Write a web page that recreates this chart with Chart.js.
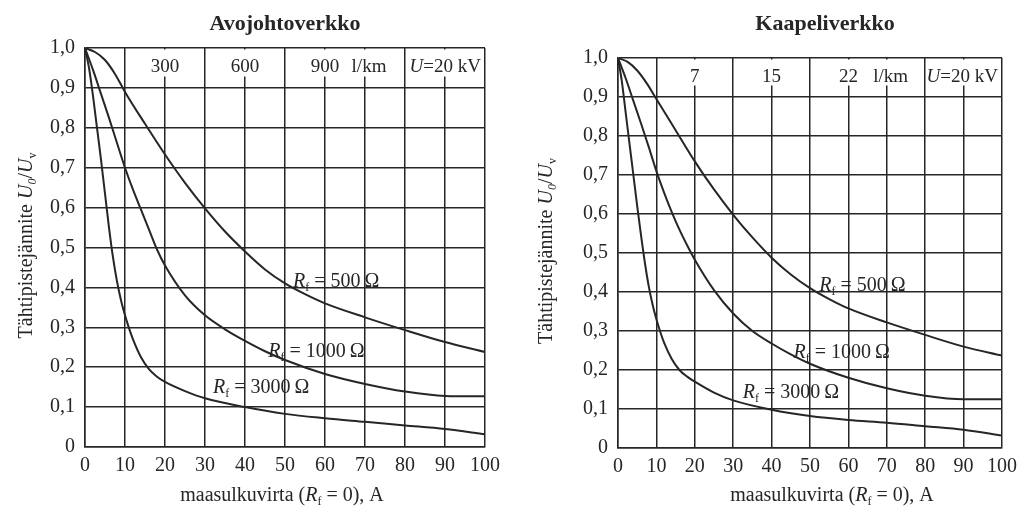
<!DOCTYPE html>
<html>
<head>
<meta charset="utf-8">
<script src="https://cdn.jsdelivr.net/npm/chart.js@4.4.1/dist/chart.umd.min.js"></script>
<style>
  body { margin: 0; background: #fff; }
  .box { position: absolute; top: 0; width: 512px; height: 508px; }
</style>
</head>
<body>
<div class="box" style="left:0"><canvas id="avo"></canvas></div>
<div class="box" style="left:512px"><canvas id="kaapeli"></canvas></div>
<script>
var SERIF = "'Liberation Serif', 'DejaVu Serif', serif";
var INK = "#262626";

// axis labels
var currentTicks = ['0', '10', '20', '30', '40', '50', '60', '70', '80', '90', '100'];
var ratioTicks = ['0', '0,1', '0,2', '0,3', '0,4', '0,5', '0,6', '0,7', '0,8', '0,9', '1,0'];
var resistances = ['500', '1000', '3000'];

// Avojohtoverkko (overhead line network)
var avoLengths = ['300', '600', '900'];
var avo500x = [0, 2.5, 5, 7.5, 10, 15, 20, 25, 30, 35, 40, 45, 50, 55, 60, 70, 80, 90, 100];
var avo500y = [1.0, 0.99, 0.97, 0.935, 0.89, 0.81, 0.733, 0.662, 0.598, 0.54, 0.49, 0.445, 0.41, 0.383, 0.36, 0.325, 0.293, 0.263, 0.238];
var avo1000x = [0, 2, 4, 6, 8, 10, 12, 14, 16, 18, 20, 25, 30, 35, 40, 45, 50, 60, 70, 80, 90, 100];
var avo1000y = [1.0, 0.945, 0.885, 0.825, 0.762, 0.70, 0.645, 0.595, 0.545, 0.495, 0.455, 0.38, 0.33, 0.295, 0.266, 0.24, 0.218, 0.183, 0.158, 0.139, 0.128, 0.127];
var avo3000x = [0, 1, 2, 3, 4, 5, 6, 7, 8, 9, 10, 11, 12, 14, 16, 18, 20, 25, 30, 40, 50, 60, 70, 80, 90, 100];
var avo3000y = [1.0, 0.95, 0.88, 0.8, 0.72, 0.635, 0.55, 0.475, 0.415, 0.368, 0.33, 0.298, 0.27, 0.225, 0.195, 0.176, 0.163, 0.14, 0.122, 0.1, 0.083, 0.072, 0.063, 0.054, 0.045, 0.032];

// Kaapeliverkko (cable network)
var kaaLengths = ['7', '15', '22'];
var kaa500x = [0, 2.5, 5, 7.5, 10, 15, 20, 25, 30, 35, 40, 45, 50, 55, 60, 70, 80, 90, 100];
var kaa500y = [1.0, 0.99, 0.968, 0.935, 0.895, 0.815, 0.735, 0.663, 0.598, 0.54, 0.488, 0.445, 0.41, 0.382, 0.358, 0.322, 0.29, 0.26, 0.237];
var kaa1000x = [0, 2, 4, 6, 8, 10, 12, 14, 16, 18, 20, 25, 30, 35, 40, 45, 50, 60, 70, 80, 90, 100];
var kaa1000y = [1.0, 0.948, 0.89, 0.832, 0.772, 0.71, 0.655, 0.605, 0.56, 0.52, 0.483, 0.405, 0.345, 0.3, 0.268, 0.24, 0.216, 0.18, 0.153, 0.134, 0.125, 0.125];
var kaa3000x = [0, 1, 2, 3, 4, 5, 6, 7, 8, 9, 10, 11, 12, 14, 16, 18, 20, 25, 30, 40, 50, 60, 70, 80, 90, 100];
var kaa3000y = [1.0, 0.94, 0.86, 0.78, 0.7, 0.62, 0.545, 0.475, 0.415, 0.368, 0.33, 0.298, 0.27, 0.228, 0.2, 0.183, 0.17, 0.142, 0.122, 0.098, 0.082, 0.072, 0.065, 0.056, 0.047, 0.032];

function font(size, style, weight) {
  return (style || '') + ' ' + (weight || '') + ' ' + size + 'px ' + SERIF;
}

// draws a run of text pieces [text, font, dy] one after another
function runs(ctx, parts, x, y, align) {
  var w = 0;
  parts.forEach(function (p) { ctx.font = p[1]; w += ctx.measureText(p[0]).width; });
  var cx = align === 'center' ? x - w / 2 : (align === 'right' ? x - w : x);
  parts.forEach(function (p) {
    ctx.font = p[1];
    ctx.fillText(p[0], cx, y + (p[2] || 0));
    cx += ctx.measureText(p[0]).width;
  });
}

var decor = {
  id: 'decor',
  beforeDatasetsDraw: function (chart) {
    var o = chart.options.plugins.decor;
    var a = chart.chartArea, x = chart.scales.x, ctx = chart.ctx;
    // short grid lines under the top length labels
    ctx.save();
    ctx.fillStyle = '#fff';
    o.cuts.forEach(function (v) {
      var px = x.getPixelForValue(v);
      ctx.fillRect(px - 2, a.top + 1.5, 4, o.cutDepth);
    });
    ctx.restore();
  },
  afterDatasetsDraw: function (chart) {
    var o = chart.options.plugins.decor;
    var a = chart.chartArea, x = chart.scales.x, y = chart.scales.y, ctx = chart.ctx;
    var r19 = font(19), i19 = font(19, 'italic'), s12 = font(12), i20 = font(20, 'italic'), r20 = font(20);
    ctx.save();
    ctx.fillStyle = INK;
    ctx.textBaseline = 'alphabetic';
    ctx.textAlign = 'left';

    // title
    runs(ctx, [[o.title, font(22, '', 'bold')]], o.titleX, 30, 'center');

    // length labels along the top
    var ty = a.top + 24;
    o.lengths.forEach(function (t, i) {
      runs(ctx, [[t, r19]], x.getPixelForValue(o.lengthAt[i]), ty, 'center');
    });
    runs(ctx, [['l/km', r19]], x.getPixelForValue(71), ty, 'center');
    runs(ctx, [['U', i19], ['=20 kV', r19]], a.right - 4, ty, 'right');

    // curve labels
    resistances.forEach(function (r, i) {
      var p = o.labelAt[i];
      runs(ctx, [['R', i20], ['f', s12, 4], [' = ' + r + '\u2009\u03A9', r20]],
        x.getPixelForValue(p[0]), y.getPixelForValue(p[1]), 'left');
    });

    // x axis title
    runs(ctx, [['maasulkuvirta (', r20], ['R', i20], ['f', s12, 4], [' = 0), A', r20]], o.xTitleX, 501, 'center');

    // y axis title
    ctx.translate(o.yTitleX, (a.top + a.bottom) / 2 - 2);
    ctx.rotate(-Math.PI / 2);
    runs(ctx, [['T\u00e4htipistej\u00e4nnite ', r20], ['U', i20], ['0', font(12, 'italic'), 4],
      ['/', r20], ['U', i20], ['v', font(12), 4]], 0, 0, 'center');
    ctx.restore();
  }
};

function makeChart(id, opt) {
  var sets = opt.curves.map(function (c) {
    return {
      data: c[0].map(function (v, i) { return { x: v, y: c[1][i] }; }),
      borderColor: INK,
      borderWidth: 2,
      pointRadius: 0,
      fill: false,
      cubicInterpolationMode: 'monotone'
    };
  });
  var grid = { color: INK, lineWidth: 1.5, drawTicks: false };
  return new Chart(document.getElementById(id), {
    type: 'line',
    data: { datasets: sets },
    options: {
      responsive: true,
      maintainAspectRatio: false,
      animation: false,
      events: [],
      layout: { padding: { top: opt.area.top, right: 512 - opt.area.right, bottom: 0, left: 0 } },
      plugins: {
        legend: { display: false },
        tooltip: { enabled: false },
        decor: opt.decor
      },
      scales: {
        x: {
          type: 'linear', min: 0, max: 100,
          grid: grid,
          border: { color: INK, width: 1.5 },
          ticks: {
            stepSize: 10, padding: 7, color: INK, font: { family: SERIF, size: 20 },
            maxRotation: 0,
            callback: function (v, i) { return currentTicks[i]; }
          },
          afterFit: function (s) { s.height = 508 - opt.area.bottom; }
        },
        y: {
          min: 0, max: 1,
          grid: grid,
          border: { color: INK, width: 1.5 },
          ticks: {
            stepSize: 0.1, padding: 10, color: INK, font: { family: SERIF, size: 20 },
            callback: function (v, i) { return ratioTicks[i]; }
          },
          afterFit: function (s) { s.width = opt.area.left; }
        }
      }
    },
    plugins: [decor]
  });
}

makeChart('avo', {
  area: { left: 85, right: 485, top: 48, bottom: 447 },
  curves: [[avo500x, avo500y], [avo1000x, avo1000y], [avo3000x, avo3000y]],
  decor: {
    title: 'Avojohtoverkko', titleX: 285,
    lengths: avoLengths, lengthAt: [20, 40, 60],
    cuts: [20, 40, 60, 70, 90], cutDepth: 27,
    labelAt: [[52, 0.40], [45.8, 0.226], [32, 0.135]],
    xTitleX: 282, yTitleX: 32
  }
});

makeChart('kaapeli', {
  area: { left: 106, right: 497, top: 58, bottom: 448 },
  curves: [[kaa500x, kaa500y], [kaa1000x, kaa1000y], [kaa3000x, kaa3000y]],
  decor: {
    title: 'Kaapeliverkko', titleX: 313,
    lengths: kaaLengths, lengthAt: [20, 40, 60],
    cuts: [20, 40, 60, 70, 90], cutDepth: 26,
    labelAt: [[52.4, 0.403], [45.7, 0.231], [32.5, 0.128]],
    xTitleX: 320, yTitleX: 40
  }
});
</script>
</body>
</html>
